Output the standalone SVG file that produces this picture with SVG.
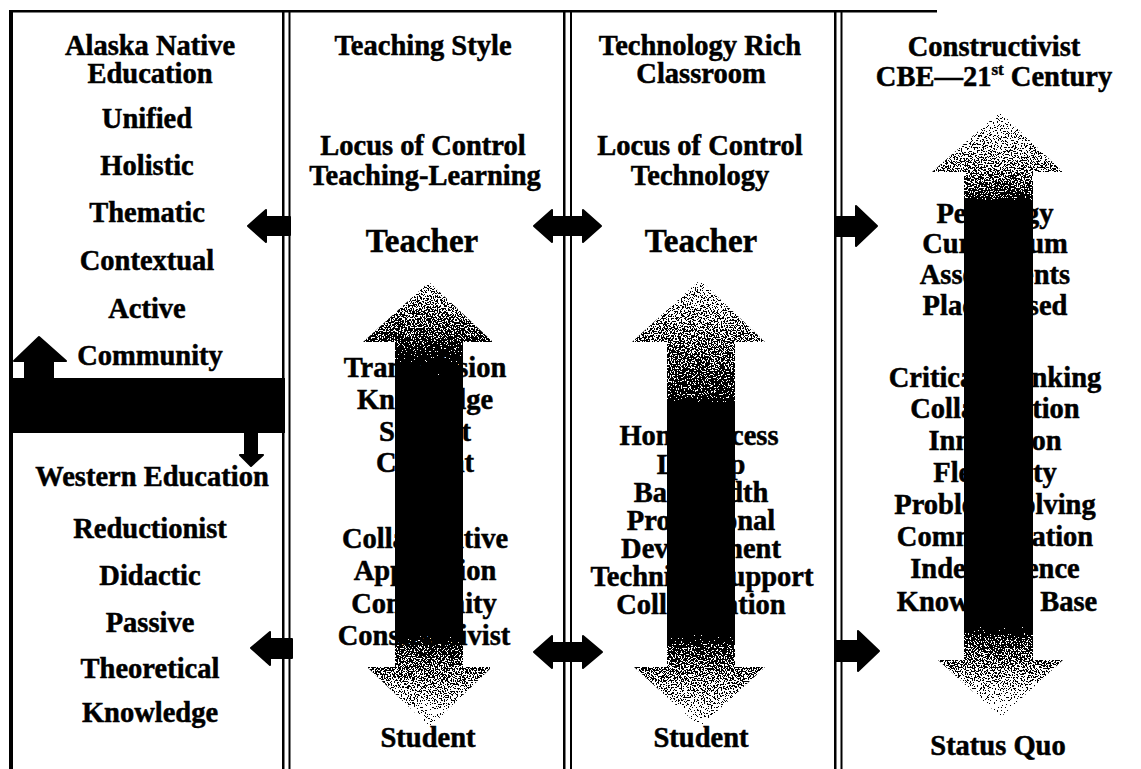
<svg xmlns="http://www.w3.org/2000/svg" width="1141" height="769" viewBox="0 0 1141 769">
  <style>
    .t { font-family: "Liberation Serif", "Times New Roman", serif; font-weight: bold; font-size: 28.5px; fill: #000; stroke: #000; stroke-width: 0.5; text-anchor: middle; }
    .big { font-size: 33px; }
    .rule { fill: #000; }
    .solid { fill: #000; stroke: #000; stroke-width: 2; stroke-linejoin: round; }
  </style>
  <defs>
    <!-- stipple: turns the gradient's opacity into a black/white speckle -->
    <filter id="stipple" x="-5%" y="-5%" width="110%" height="110%" color-interpolation-filters="sRGB">
      <feTurbulence type="fractalNoise" baseFrequency="0.7" numOctaves="2" seed="7" result="noise"/>
      <feColorMatrix in="noise" type="matrix" values="0 0 0 0 0  0 0 0 0 0  0 0 0 0 0  1 0 0 0 0" result="n"/>
      <feComposite in="SourceGraphic" in2="n" operator="arithmetic" k1="0" k2="1" k3="-1" k4="0.5" result="d"/>
      <feComponentTransfer in="d" result="mask">
        <feFuncA type="discrete" tableValues="0 1"/>
      </feComponentTransfer>
      <feFlood flood-color="#000" result="ink"/>
      <feComposite in="ink" in2="mask" operator="in"/>
    </filter>
    <linearGradient id="g2" gradientUnits="userSpaceOnUse" x1="0" y1="282" x2="0" y2="727">
      <stop offset="0" stop-color="#000" stop-opacity="0.42"/>
      <stop offset="0.135" stop-color="#000" stop-opacity="0.6"/>
      <stop offset="0.26" stop-color="#000" stop-opacity="1"/>
      <stop offset="0.75" stop-color="#000" stop-opacity="1"/>
      <stop offset="0.82" stop-color="#000" stop-opacity="0.6"/>
      <stop offset="1" stop-color="#000" stop-opacity="0.33"/>
    </linearGradient>
    <linearGradient id="g3" gradientUnits="userSpaceOnUse" x1="0" y1="280" x2="0" y2="727">
      <stop offset="0" stop-color="#000" stop-opacity="0.4"/>
      <stop offset="0.14" stop-color="#000" stop-opacity="0.52"/>
      <stop offset="0.26" stop-color="#000" stop-opacity="0.62"/>
      <stop offset="0.31" stop-color="#000" stop-opacity="1"/>
      <stop offset="0.76" stop-color="#000" stop-opacity="1"/>
      <stop offset="0.82" stop-color="#000" stop-opacity="0.6"/>
      <stop offset="1" stop-color="#000" stop-opacity="0.33"/>
    </linearGradient>
    <linearGradient id="g4" gradientUnits="userSpaceOnUse" x1="0" y1="112" x2="0" y2="717">
      <stop offset="0" stop-color="#000" stop-opacity="0.35"/>
      <stop offset="0.1" stop-color="#000" stop-opacity="0.5"/>
      <stop offset="0.14" stop-color="#000" stop-opacity="0.6"/>
      <stop offset="0.16" stop-color="#000" stop-opacity="1"/>
      <stop offset="0.83" stop-color="#000" stop-opacity="1"/>
      <stop offset="0.87" stop-color="#000" stop-opacity="0.6"/>
      <stop offset="1" stop-color="#000" stop-opacity="0.3"/>
    </linearGradient>
    <clipPath id="c2"><path d="M429,282 L493,342 L463,342 L463,667 L492,667 L430,727 L367,667 L395,667 L395,342 L363,342 Z"/></clipPath>
    <clipPath id="c3"><path d="M700,280 L765,342 L735,342 L735,667 L765,667 L700,727 L634,667 L667,667 L667,342 L632,342 Z"/></clipPath>
    <clipPath id="c4"><path d="M1000,112 L1063,172 L1033,172 L1033,660 L1063,660 L1001,717 L938,660 L964,660 L964,172 L932,172 Z"/></clipPath>
  </defs>

  <rect width="1141" height="769" fill="#fff"/>

  <!-- frame and column rules -->
  <g id="frame">
    <rect class="rule" x="9" y="10" width="928" height="2.5"/>
    <rect class="rule" x="9" y="10" width="4" height="759"/>
    <rect class="rule" x="282" y="10" width="2.5" height="759"/>
    <rect class="rule" x="288.5" y="10" width="2" height="759"/>
    <rect class="rule" x="563" y="10" width="2.5" height="759"/>
    <rect class="rule" x="570" y="10" width="2" height="759"/>
    <rect class="rule" x="834" y="10" width="2.5" height="759"/>
    <rect class="rule" x="840.5" y="10" width="2" height="759"/>
  </g>

  <!-- column 1: Alaska Native / Western education -->
  <g id="col-alaska">
    <text class="t" x="150" y="55">Alaska Native</text>
    <text class="t" x="150" y="83">Education</text>
    <text class="t" x="147" y="128">Unified</text>
    <text class="t" x="147" y="175">Holistic</text>
    <text class="t" x="147" y="222">Thematic</text>
    <text class="t" x="147" y="270">Contextual</text>
    <text class="t" x="147" y="318">Active</text>
    <text class="t" x="150" y="365">Community</text>
  </g>
  <g id="divider-band">
    <rect x="9" y="378" width="276" height="55" fill="#000"/>
    <path class="solid" d="M39,337 L66,361 L53,361 L53,379 L25,379 L25,361 L14,361 Z"/>
    <path class="solid" d="M251,466 L263,455 L257,455 L257,432 L245,432 L245,455 L240,455 Z"/>
  </g>
  <g id="col-western">
    <text class="t" x="152" y="486">Western Education</text>
    <text class="t" x="150" y="538">Reductionist</text>
    <text class="t" x="150" y="585">Didactic</text>
    <text class="t" x="150" y="632">Passive</text>
    <text class="t" x="150" y="678">Theoretical</text>
    <text class="t" x="150" y="722">Knowledge</text>
  </g>

  <!-- column 2: teaching style -->
  <g id="col-teaching">
    <text class="t" x="423" y="55">Teaching Style</text>
    <text class="t" x="423" y="155">Locus of Control</text>
    <text class="t" x="425" y="185">Teaching-Learning</text>
    <text class="t big" x="422" y="252">Teacher</text>
    <text class="t" x="425" y="377">Transmission</text>
    <text class="t" x="425" y="409">Knowledge</text>
    <text class="t" x="425" y="441">Subject</text>
    <text class="t" x="425" y="472">Content</text>
    <text class="t" x="425" y="548">Collaborative</text>
    <text class="t" x="425" y="580">Application</text>
    <text class="t" x="424" y="613">Community</text>
    <text class="t" x="424" y="645">Constructivist</text>
    <text class="t" x="428" y="747">Student</text>
    <g clip-path="url(#c2)">
      <rect x="355" y="275" width="145" height="460" fill="url(#g2)" filter="url(#stipple)"/>
    </g>
  </g>

  <!-- column 3: technology rich classroom -->
  <g id="col-technology">
    <text class="t" x="700" y="55">Technology Rich</text>
    <text class="t" x="701" y="83">Classroom</text>
    <text class="t" x="700" y="155">Locus of Control</text>
    <text class="t" x="700" y="185">Technology</text>
    <text class="t big" x="701" y="252">Teacher</text>
    <text class="t" x="699" y="445">Home Access</text>
    <text class="t" x="701" y="474">Laptop</text>
    <text class="t" x="701" y="502">Bandwidth</text>
    <text class="t" x="701" y="530">Professional</text>
    <text class="t" x="701" y="558">Development</text>
    <text class="t" x="702" y="586">Technical Support</text>
    <text class="t" x="701" y="614">Collaboration</text>
    <text class="t" x="701" y="747">Student</text>
    <g clip-path="url(#c3)">
      <rect x="625" y="272" width="148" height="462" fill="url(#g3)" filter="url(#stipple)"/>
    </g>
  </g>

  <!-- column 4: constructivist CBE -->
  <g id="col-constructivist">
    <text class="t" x="994" y="56">Constructivist</text>
    <text class="t" x="994" y="86">CBE—21<tspan font-size="17" dy="-11">st</tspan><tspan dy="11"> Century</tspan></text>
    <text class="t" x="995" y="223">Pedagogy</text>
    <text class="t" x="995" y="253">Curriculum</text>
    <text class="t" x="995" y="284">Assessments</text>
    <text class="t" x="995" y="315">Place Based</text>
    <text class="t" x="995" y="387">Critical Thinking</text>
    <text class="t" x="995" y="418">Collaboration</text>
    <text class="t" x="995" y="450">Innovation</text>
    <text class="t" x="995" y="482">Flexibility</text>
    <text class="t" x="995" y="514">Problem Solving</text>
    <text class="t" x="995" y="546">Communication</text>
    <text class="t" x="995" y="578">Independence</text>
    <text class="t" x="997" y="611">Knowledge Base</text>
    <text class="t" x="998" y="755">Status Quo</text>
    <g clip-path="url(#c4)">
      <rect x="925" y="105" width="145" height="620" fill="url(#g4)" filter="url(#stipple)"/>
    </g>
  </g>

  <!-- connectors between columns -->
  <g id="connectors">
    <path class="solid" d="M248,226 L266,210 L266,217 L290,217 L290,235 L266,235 L266,242 Z"/>
    <path class="solid" d="M251,648 L270,632 L270,639 L292,639 L292,658 L270,658 L270,665 Z"/>
    <path class="solid" d="M534,226 L552,210 L552,217 L583,217 L583,210 L601,226 L583,242 L583,235 L552,235 L552,242 Z"/>
    <path class="solid" d="M534,652 L552,636 L552,643 L583,643 L583,636 L602,652 L583,668 L583,661 L552,661 L552,668 Z"/>
    <path class="solid" d="M877,226 L856,206 L856,217 L836,217 L836,236 L856,236 L856,246 Z"/>
    <path class="solid" d="M879,651 L858,631 L858,641 L836,641 L836,661 L858,661 L858,671 Z"/>
  </g>
</svg>
